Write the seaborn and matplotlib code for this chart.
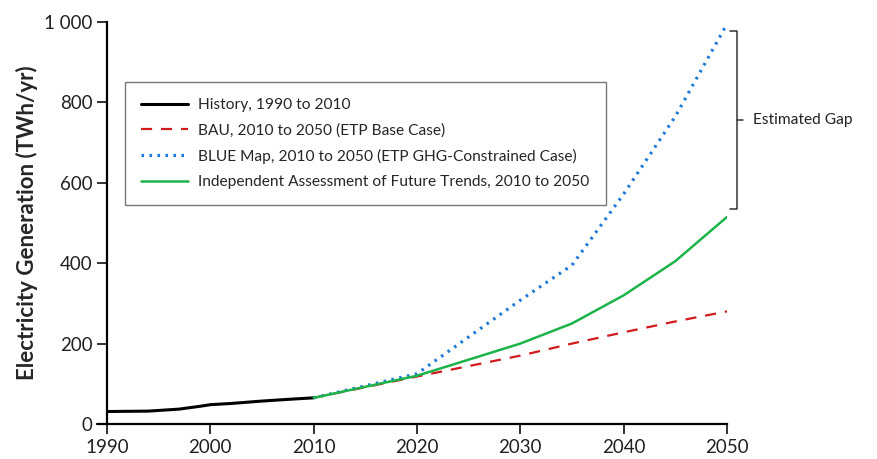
import matplotlib
matplotlib.use("Agg")
import matplotlib.pyplot as plt
import pandas as pd
import seaborn as sns

# data
hist_years = [1990, 1994, 1997, 1999, 2000, 2002, 2005, 2008, 2010]
hist_vals = [31, 32, 37, 44, 48, 51, 57, 62, 65]

proj_years = [2010, 2020, 2030, 2035, 2040, 2045, 2050]
bau_vals = [65, 118, 170, 200, 228, 255, 280]
blue_vals = [65, 125, 308, 395, 572, 765, 995]
indep_vals = [65, 120, 200, 250, 320, 405, 515]

labels = [
    "History, 1990 to 2010",
    "BAU, 2010 to 2050 (ETP Base Case)",
    "BLUE Map, 2010 to 2050 (ETP GHG-Constrained Case)",
    "Independent Assessment of Future Trends, 2010 to 2050",
]
gap_label = "Estimated Gap"

sns.set_theme(style="ticks")
plt.rcParams["font.family"] = ["Lato", "DejaVu Sans"]

fig = plt.figure(figsize=(8.77, 4.59), dpi=100)
ax = fig.add_axes([0.122, 0.0763, 0.707, 0.876])

hist_df = pd.DataFrame({"year": hist_years, "val": hist_vals})
proj_df = pd.DataFrame({"year": proj_years, "bau": bau_vals, "blue": blue_vals, "indep": indep_vals})

sns.lineplot(data=hist_df, x="year", y="val", ax=ax, color="black", lw=2.2, label=labels[0])
sns.lineplot(data=proj_df, x="year", y="bau", ax=ax, color="#d01c1c", lw=1.6,
             linestyle=(0, (5, 4)), label=labels[1])
sns.lineplot(data=proj_df, x="year", y="blue", ax=ax, color="#1f7ad6", lw=2.3,
             linestyle=(0, (0.8, 1.7)), label=labels[2])
sns.lineplot(data=proj_df, x="year", y="indep", ax=ax, color="#1db34b", lw=1.8, label=labels[3])

ax.set_xlim(1990, 2050)
ax.set_ylim(0, 1000)
ax.set_xticks(range(1990, 2051, 10))
ax.set_yticks(range(0, 1001, 200))
ax.set_yticklabels(["0", "200", "400", "600", "800", "1 000"])
ax.tick_params(labelsize=13.5, length=7, width=1.3, colors="#222222")
for s in ["left", "bottom"]:
    ax.spines[s].set_linewidth(1.6)
    ax.spines[s].set_color("black")
sns.despine(ax=ax)
ax.spines["left"].set_bounds(0, 1000)
# bottom axis line runs a little past the y axis, as in the reference
ax.plot([1989.0, 1990], [0, 0], color="black", lw=1.6, clip_on=False)
ax.set_xlabel("")
ax.set_ylabel("Electricity Generation (TWh/yr)", fontsize=16, fontweight="bold", labelpad=4)

leg = ax.legend(loc="upper left", bbox_to_anchor=(0.029, 0.851), fontsize=11.2, frameon=True,
                fancybox=False, edgecolor="#555555", handlelength=3.0, borderpad=1.05,
                labelspacing=0.72, handletextpad=0.65, borderaxespad=0)
leg.get_frame().set_linewidth(1.0)

# bracket for the gap between BLUE map and independent assessment at 2050
bx = 2051.0
top, bot = blue_vals[-1] - 17, indep_vals[-1] + 20
mid = 756
ax.plot([bx - 0.7, bx, bx, bx - 0.7], [top, top, bot, bot], color="#333333", lw=1.1, clip_on=False)
ax.plot([bx, bx + 0.55], [mid, mid], color="#333333", lw=1.1, clip_on=False)
ax.text(bx + 1.55, mid, gap_label, fontsize=11.2, va="center", ha="left", color="#222222")

fig.savefig("out.png", dpi=100)
